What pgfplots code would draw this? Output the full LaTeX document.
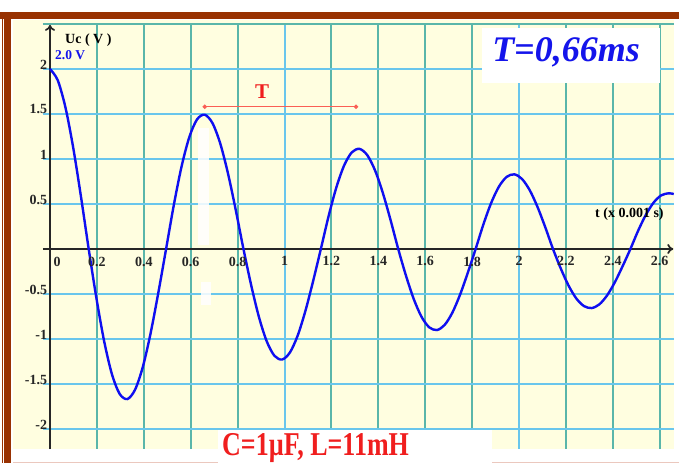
\documentclass[border=0pt]{standalone}
\usepackage{pgfplots}
\pgfplotsset{compat=1.18}
\usepackage{fontspec}
\setmainfont{Liberation Serif}
\usetikzlibrary{arrows.meta}

\definecolor{cream}{RGB}{255,254,224}
\definecolor{framebrown}{RGB}{152,50,2}
\definecolor{gridteal}{RGB}{90,182,170}
\definecolor{gridblue}{RGB}{105,198,236}
\definecolor{wave}{RGB}{15,15,240}
\definecolor{notered}{RGB}{240,30,30}
\definecolor{markline}{RGB}{250,95,85}
\definecolor{titleblue}{RGB}{20,20,235}
\definecolor{edgepink}{RGB}{235,200,190}

\begin{document}
\begin{tikzpicture}
% page, frame and plotting background
\fill[white] (-13pt,-14pt) rectangle (666pt,449pt);
\fill[framebrown] (-13pt,430pt) rectangle (666pt,437pt);
\fill[framebrown] (-9pt,-14pt) rectangle (-2pt,437pt);
\fill[framebrown] (-11.3pt,-14pt) rectangle (-10pt,437pt);
\draw[edgepink, line width=0.8pt] (0pt,-13pt) -- (666pt,-13pt);
\fill[cream] (0pt,0pt) rectangle (661pt,429pt);

\begin{axis}[
  at={(0pt,0pt)}, anchor=south west,
  scale only axis, width=661pt, height=429pt,
  xmin=-0.1578, xmax=2.661, ymin=-2.222, ymax=2.544,
  axis lines=middle, axis line style={draw=none},
  axis on top,
  major tick length=0pt,
  xtick={0,0.2,0.4,0.6,0.8,1,1.2,1.4,1.6,1.8,2,2.2,2.4,2.6},
  xticklabels={\hspace*{14pt}0,0.2,0.4,0.6,0.8,1,1.2,1.4,1.6,1.8,2,2.2,2.4,2.6},
  ytick={-2,-1.5,-1,-0.5,0.5,1,1.5,2},
  yticklabels={-2,-1.5,-1,-0.5,0.5,1,1.5,2},
  ticklabel style={font=\fontsize{14}{14}\selectfont\bfseries, text=black!85},
  xticklabel style={anchor=north, yshift=-4.2pt},
  yticklabel style={anchor=east, yshift=4.5pt, xshift=0.6pt},
  hide obscured x ticks=false, hide obscured y ticks=false,
  clip=false,
]
% grid: teal verticals, blue at whole milliseconds, blue horizontals
\pgfplotsinvokeforeach{0.2,0.4,0.6,0.8,1.2,1.4,1.6,1.8,2.2,2.4,2.6}{
  \draw[gridteal, line width=2pt] (axis cs:#1,2.5) -- (axis cs:#1,-2.222);
}
\pgfplotsinvokeforeach{1,2}{
  \draw[gridblue, line width=2pt] (axis cs:#1,2.5) -- (axis cs:#1,-2.222);
}
\draw[gridteal, line width=2pt] (axis cs:-0.03,2.5) -- (axis cs:2.661,2.5);
\pgfplotsinvokeforeach{2,1.5,1,0.5,-0.5,-1,-1.5,-2}{
  \draw[gridblue, line width=2pt] (axis cs:-0.03,#1) -- (axis cs:2.661,#1);
}
% light streak on the screen
\fill[white, opacity=0.85] (axis cs:0.633,0.04) rectangle (axis cs:0.676,1.34);
\fill[white, opacity=0.85] (axis cs:0.645,-0.37) rectangle (axis cs:0.688,-0.62);

% axes
\draw[black!85, line width=1.7pt, -{To[length=6pt,width=10pt]}]
  (axis cs:0,-2.222) -- (axis cs:0,2.49);
\draw[black!85, line width=1.7pt, -{To[length=6pt,width=10pt]}]
  (axis cs:-0.03,0) -- (axis cs:2.658,0);

% period marker
\addplot[markline, line width=1.3pt, mark=*, mark size=1.5pt,
  mark options={fill=markline, draw=markline}]
  coordinates {(0.66,1.58) (1.305,1.58)};

% capacitor voltage, damped oscillation
\addplot[wave, line width=2.4pt, smooth] coordinates {
(0.000,2.0000) (0.033,1.8745) (0.066,1.5712) (0.099,1.1250) (0.132,0.5828)
(0.165,0.0000) (0.198,-0.5474) (0.231,-1.0256) (0.264,-1.3903) (0.297,-1.6098)
(0.330,-1.6672) (0.363,-1.5617) (0.396,-1.3084) (0.429,-0.9362) (0.462,-0.4848)
(0.495,0.0000) (0.528,0.4887) (0.561,0.9161) (0.594,1.2425) (0.627,1.4395)
(0.660,1.4915) (0.693,1.3979) (0.726,1.1718) (0.759,0.8390) (0.792,0.4346)
(0.825,0.0000) (0.858,-0.4035) (0.891,-0.7559) (0.924,-1.0245) (0.957,-1.1860)
(0.990,-1.2281) (1.023,-1.1502) (1.056,-0.9634) (1.089,-0.6892) (1.122,-0.3568)
(1.155,0.0000) (1.188,0.3645) (1.221,0.6832) (1.254,0.9266) (1.287,1.0735)
(1.320,1.1123) (1.353,1.0425) (1.386,0.8739) (1.419,0.6257) (1.452,0.3241)
(1.485,0.0000) (1.518,-0.2962) (1.551,-0.5548) (1.584,-0.7517) (1.617,-0.8700)
(1.650,-0.9006) (1.683,-0.8433) (1.716,-0.7062) (1.749,-0.5050) (1.782,-0.2614)
(1.815,0.0000) (1.848,0.2718) (1.881,0.5095) (1.914,0.6910) (1.947,0.8006)
(1.980,0.8295) (2.013,0.7775) (2.046,0.6517) (2.079,0.4666) (2.112,0.2417)
(2.145,0.0000) (2.178,-0.2162) (2.211,-0.4048) (2.244,-0.5483) (2.277,-0.6343)
(2.310,-0.6564) (2.343,-0.6144) (2.376,-0.5143) (2.409,-0.3676) (2.442,-0.1902)
(2.475,0.0000) (2.508,0.2027) (2.541,0.3800) (2.574,0.5153) (2.607,0.5971)
(2.640,0.6187) (2.660,0.6100)
};
\end{axis}

% labels and notes
\node[anchor=base west, inner sep=0pt, font=\fontsize{14}{14}\selectfont\bfseries]
  at (52pt,405pt) {Uc ( V )};
\node[anchor=base west, inner sep=0pt, text=titleblue, font=\fontsize{13.5}{13.5}\selectfont\bfseries]
  at (42pt,389pt) {2.0 V};
\node[anchor=base west, inner sep=0pt, font=\fontsize{14}{14}\selectfont\bfseries]
  at (582pt,231pt) {t (x 0.001 s)};
\node[anchor=center, inner sep=0pt, text=notered, font=\fontsize{21}{21}\selectfont\bfseries]
  at (249pt,357pt) {T};

\fill[white] (469pt,366pt) rectangle (647pt,421pt);
\node[anchor=base, inner sep=0pt, text=titleblue, font=\fontsize{36}{36}\selectfont\bfseries\itshape]
  at (553pt,387pt) {T=0,66ms};

\fill[white] (205pt,-14pt) rectangle (479pt,19pt);
\node[anchor=base west, inner sep=0pt, text=notered, font=\fontsize{26}{26}\selectfont\bfseries]
  at (209pt,-6pt) {\scalebox{1}[1.28]{C=1µF, L=11mH}};

\pgfresetboundingbox
\useasboundingbox (-13pt,-14pt) rectangle (666pt,449pt);
\end{tikzpicture}
\end{document}
